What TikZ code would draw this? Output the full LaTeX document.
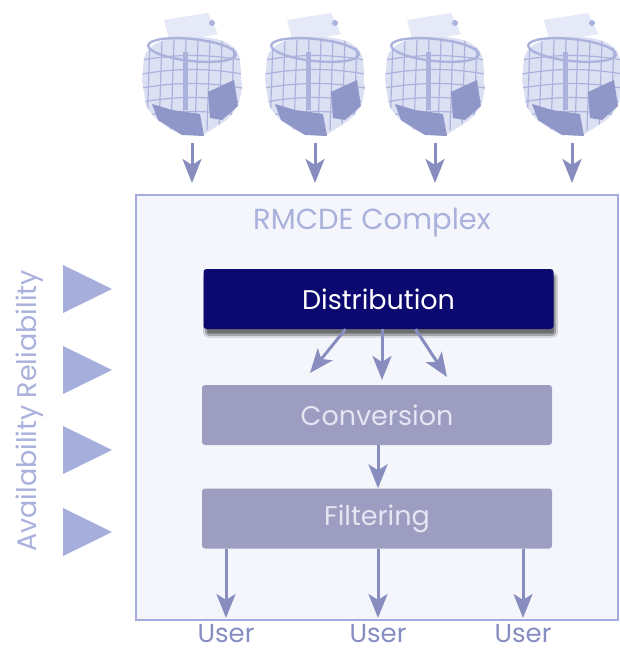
\documentclass[tikz,border=0pt]{standalone}
\usepackage{fontspec}
\setmainfont{Poppins}
\usetikzlibrary{arrows.meta,shadows.blur}

\definecolor{frameline}{HTML}{A4ABDD}
\definecolor{framefill}{HTML}{F4F6FC}
\definecolor{navybox}{HTML}{0B0970}
\definecolor{procfill}{HTML}{9C9DC0}
\definecolor{proctext}{HTML}{E4E6F4}
\definecolor{flowcol}{HTML}{888DBF}
\definecolor{labelcol}{HTML}{A9B1DC}
\definecolor{usercol}{HTML}{868DC2}
\definecolor{markcol}{HTML}{A6AEDC}
\definecolor{cagepale}{HTML}{E6E9F7}
\definecolor{cagebody}{HTML}{DCE0F3}
\definecolor{cagegrid}{HTML}{ABB2DC}
\definecolor{cagedark}{HTML}{8F97C8}

\tikzset{
  flow/.style={draw=flowcol, line width=3pt,
    -{Stealth[length=24pt,width=19pt,inset=6pt]}},
  procbox/.style={fill=procfill, rounded corners=3pt, minimum width=350pt,
    minimum height=60pt, inner sep=0pt, text=proctext,
    font=\fontsize{27}{30}\selectfont},
  distbox/.style={procbox, fill=navybox, text=white,
    blur shadow={shadow xshift=2pt, shadow yshift=-6pt,
      shadow blur steps=10, shadow opacity=55}},
  userlabel/.style={text=usercol, font=\fontsize{26}{27}\selectfont, inner sep=0pt},
  cage/.pic={
    % paper tray on top of the cage
    \fill[cagepale] (22,10) -- (66,3) -- (76,24) -- (28,33) -- cycle;
    \fill[cagegrid] (70,13) circle (3);
    % cage body with its wire grid
    \begin{scope}
      \clip (2,48) .. controls (5,35) and (20,28) .. (45,27)
        .. controls (75,26) and (95,32) .. (98,50) -- (100,78)
        .. controls (98,95) and (90,108) .. (78,114) -- (60,126)
        -- (38,124) .. controls (25,118) and (10,108) .. (4,95)
        -- (0,70) -- cycle;
      \fill[cagebody] (0,20) rectangle (100,130);
      \foreach \gx in {8,20,...,100}
        \draw[cagegrid, line width=1.2pt] (\gx,30) -- (\gx-3,120);
      \foreach \gy in {46,60,74,88,102}
        \draw[cagegrid, line width=1.2pt] (0,\gy+4) .. controls (35,\gy-2) and (65,\gy-2) .. (100,\gy+4);
    \end{scope}
    % rim round the opening
    \draw[cagegrid, line width=2.4pt, rotate around={-6:(50,40)}] (50,40) ellipse (44 and 11);
    % darker panels at side and base
    \fill[cagedark] (66,82) -- (92,70) -- (96,96) -- (80,110) -- (68,108) -- cycle;
    \fill[cagedark] (10,94) -- (30,100) -- (58,104) -- (62,126) -- (40,125) -- (16,110) -- cycle;
    \fill[cagegrid] (41,42) rectangle (46,100);
    \coordinate (-base) at (50,130);
  }
}

\begin{document}
\begin{tikzpicture}[x=1pt,y=-1pt]
\useasboundingbox[fill=white] (0,0) rectangle (619,652);

% outer complex frame
\node[draw=frameline, fill=framefill, line width=2pt, anchor=north west,
      minimum width=482pt, minimum height=425pt, inner sep=0pt]
      (complex) at (135,194) {};
\node[text=labelcol, font=\fontsize{29}{32}\selectfont, inner sep=0pt]
      (title) at (372,223) {RMCDE Complex};

% data sources
\pic (k1) at (142,10) {cage};
\pic (k2) at (265,10) {cage};
\pic (k3) at (385,10) {cage};
\pic (k4) at (522,10) {cage};
\foreach \k in {k1,k2,k3,k4}
  \draw[flow, shorten >=11pt] (\k-base) ++(0,3) -- (\k-base |- complex.north);

% processing chain
\node[distbox] (dist) at (378.5,299) {Distribution};
\node[procbox] (conv) at (377,415) {Conversion};
\node[procbox] (filt) at (377,518.5) {Filtering};

\coordinate (dl) at (310,373);
\coordinate (dm) at (382,380);
\coordinate (dr) at (447,377);
\draw[flow] ([xshift=-33pt]dist.south) -- (dl);
\draw[flow] (dist.south -| dm) -- (dm);
\draw[flow] ([xshift=37pt]dist.south) -- (dr);

\draw[flow] (conv.south -| 378,0) -- (filt.north -| 378,0);

% outputs to users
\foreach \ux/\un in {226/u1,378/u2,523/u3}{
  \draw[flow, shorten >=3pt] (filt.south -| \ux,0) -- (complex.south -| \ux,0);
  \node[userlabel] (\un) at (\ux,634) {User};
}

% side markers and their label
\foreach \my in {289,370,450,532}
  \fill[markcol] (63,\my-24) -- (112,\my) -- (63,\my+24) -- cycle;
\node[rotate=90, text=labelcol, font=\fontsize{27}{30}\selectfont, inner sep=0pt]
      (qos) at (30,411) {Availability Reliability};
\end{tikzpicture}
\end{document}
